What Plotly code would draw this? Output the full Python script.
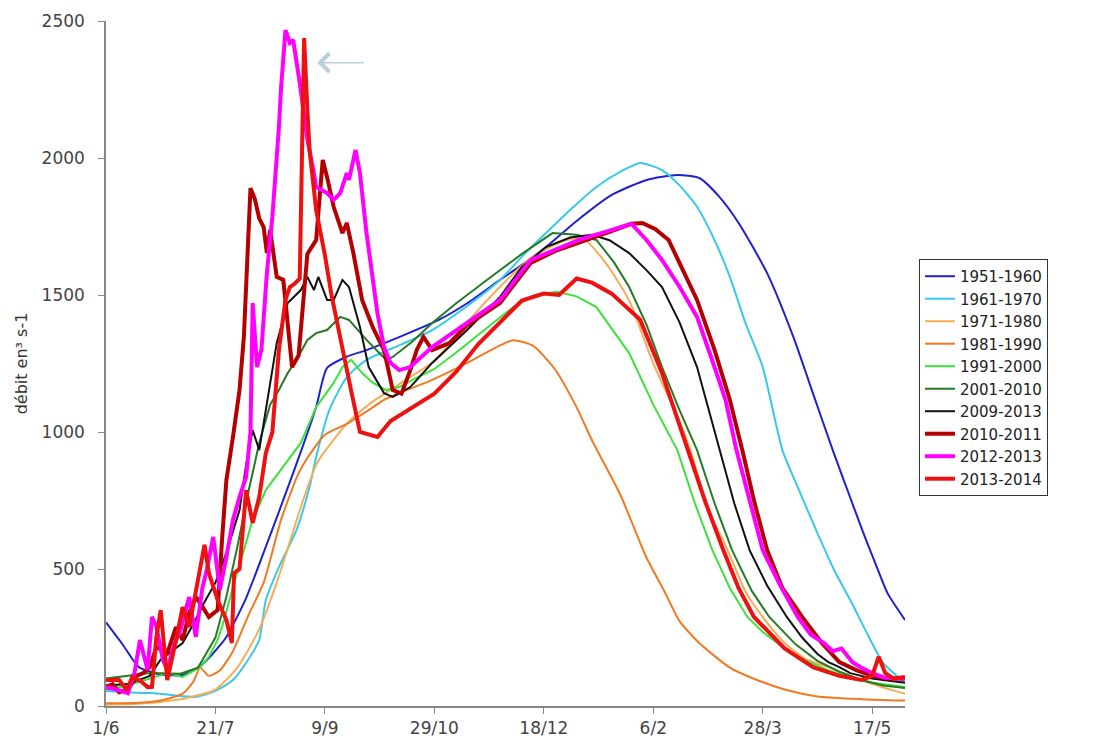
import plotly.graph_objects as go

# day index from 1 June (0) to 31 May (~365)
tick_days = [0, 50, 100, 150, 200, 250, 300, 350]
tick_labels = ["1/6", "21/7", "9/9", "29/10", "18/12", "6/2", "28/3", "17/5"]

days_5160 = [0, 8, 15, 25, 35, 42, 47, 55, 64, 72, 81, 90, 96, 101, 110, 119, 135, 152, 165, 180, 190, 201, 215,
             231, 247, 261, 271, 280, 289, 302, 314, 323, 332, 340, 346, 352, 357, 365]
q_5160 = [305, 220, 142, 115, 113, 140, 175, 252, 394, 560, 752, 950, 1091, 1234, 1275, 1299, 1350, 1409, 1470, 1555,
          1610, 1675, 1770, 1865, 1920, 1938, 1927, 1860, 1763, 1580, 1347, 1140, 934, 760, 631, 510, 412, 314]

days_6170 = [0, 10, 21, 30, 41, 50, 58, 65, 70, 73, 79, 87, 93, 96, 102, 110, 119, 135, 149, 165, 180, 190, 201,
             212, 224, 235, 244, 254, 262, 270, 278, 285, 292, 300, 309, 317, 325, 333, 340, 348, 355, 365]
q_6170 = [55, 50, 47, 40, 33, 55, 95, 170, 241, 387, 507, 642, 800, 909, 1080, 1200, 1263, 1320, 1372, 1460, 1555,
          1640, 1726, 1810, 1894, 1950, 1982, 1956, 1900, 1822, 1700, 1566, 1400, 1237, 934, 780, 631, 490, 387,
          260, 157, 84]

days_7180 = [0, 15, 30, 40, 50, 60, 70, 78, 84, 90, 96, 100, 110, 120, 135, 150, 165, 180, 195, 210, 218, 228,
             239, 250, 262, 267, 275, 284, 292, 300, 310, 320, 330, 340, 350, 365]
q_7180 = [5, 8, 20, 35, 60, 140, 280, 450, 600, 750, 880, 930, 1030, 1100, 1180, 1260, 1400, 1530, 1640, 1700,
          1705, 1620, 1480, 1250, 1040, 934, 720, 569, 420, 325, 230, 170, 142, 110, 80, 45]

days_8190 = [0, 15, 25, 35, 40, 43, 47, 52, 58, 65, 72, 80, 88, 95, 100, 110, 120, 127, 134, 149, 165, 176, 186,
             195, 205, 215, 222, 235, 247, 255, 262, 271, 285, 294, 310, 325, 345, 365]
q_8190 = [10, 12, 20, 45, 90, 140, 110, 130, 200, 330, 450, 680, 850, 940, 990, 1030, 1080, 1117, 1142, 1190,
          1252, 1300, 1335, 1315, 1230, 1090, 970, 770, 540, 420, 310, 230, 140, 106, 60, 35, 25, 20]

days_9100 = [0, 10, 20, 28, 35, 43, 47, 51, 54, 58, 63, 67, 73, 81, 89, 96, 104, 108, 112, 117, 122, 128, 134,
             140, 150, 160, 171, 186, 196, 206, 215, 224, 239, 250, 261, 269, 277, 285, 293, 300, 310, 320, 330,
             340, 350, 365]
q_9100 = [60, 75, 100, 120, 106, 142, 179, 241, 314, 434, 569, 679, 788, 872, 960, 1091, 1179, 1237, 1263, 1215,
          1179, 1153, 1164, 1190, 1230, 1290, 1360, 1456, 1500, 1512, 1495, 1456, 1288, 1100, 934, 740, 569, 430,
          325, 270, 210, 165, 130, 105, 85, 69]

days_0110 = [0, 10, 20, 34, 42, 50, 55, 60, 65, 70, 75, 79, 83, 87, 92, 96, 101, 107, 111, 119, 128, 131, 140,
             149, 160, 174, 190, 204, 215, 224, 232, 239, 247, 254, 262, 270, 278, 286, 295, 303, 315, 325, 335,
             345, 355, 365]
q_0110 = [100, 110, 120, 118, 140, 250, 400, 580, 780, 960, 1100, 1153, 1215, 1263, 1336, 1361, 1372, 1420, 1409,
          1336, 1263, 1274, 1330, 1398, 1470, 1555, 1650, 1726, 1720, 1701, 1620, 1529, 1390, 1237, 1080, 934, 740,
          569, 420, 325, 225, 165, 125, 95, 75, 66]

days_0913 = [0, 10, 20, 25, 30, 35, 40, 45, 50, 55, 61, 64, 67, 70, 73, 78, 83, 89, 92, 95, 97, 101, 104, 108,
             111, 116, 120, 127, 131, 139, 149, 165, 180, 190, 201, 212, 222, 230, 239, 247, 254, 262, 270, 280,
             287, 294, 302, 311, 318, 325, 330, 335, 340, 345, 350, 355, 360, 365]
q_0913 = [75, 80, 110, 170, 200, 230, 300, 380, 450, 560, 715, 880, 1007, 934, 1080, 1325, 1471, 1518, 1566, 1518,
          1566, 1482, 1482, 1555, 1529, 1383, 1237, 1142, 1128, 1164, 1252, 1372, 1493, 1602, 1675, 1710, 1720,
          1700, 1653, 1590, 1529, 1400, 1237, 945, 740, 569, 440, 325, 250, 190, 160, 142, 120, 110, 100, 95, 90, 85]

days_1011 = [0, 3, 6, 10, 14, 17, 20, 23, 28, 32, 35, 38, 41, 43, 47, 51, 53, 55, 58, 61, 63, 66, 68, 70, 72,
             73.5, 75, 78, 81, 83, 85, 88, 92, 96, 99, 101, 104, 108, 110, 113, 117, 122, 127, 131, 135, 139, 142,
             145, 149, 157, 165, 180, 194, 205, 216, 230, 240, 245, 251, 257, 263, 270, 278, 285, 291, 296, 302,
             309, 318, 327, 335, 343, 350, 357, 365]
q_1011 = [70, 80, 50, 60, 110, 120, 142, 215, 193, 288, 241, 340, 398, 376, 325, 350, 606, 825, 982, 1153, 1350,
          1890, 1850, 1780, 1748, 1653, 1737, 1566, 1555, 1400, 1237, 1280, 1650, 1700, 1993, 1930, 1822, 1726,
          1763, 1653, 1482, 1380, 1299, 1153, 1140, 1226, 1300, 1347, 1299, 1325, 1390, 1471, 1617, 1660, 1690,
          1730, 1760, 1763, 1740, 1701, 1600, 1482, 1300, 1117, 923, 750, 569, 430, 325, 230, 160, 130, 110, 100,
          100]

days_1213 = [0, 5, 10, 13, 15.5, 19, 21, 23, 26, 28, 31, 34, 38, 41, 44, 46, 49, 52, 55, 58, 61, 64, 66, 67, 69,
             71, 73.5, 76, 79, 80, 82, 84, 85.5, 88.5, 92, 93, 95, 96, 101, 104, 107, 110, 111, 114, 116, 119, 124,
             127, 130, 134, 139, 149, 165, 180, 194, 216, 230, 240, 247, 254, 262, 270, 277, 283, 288, 294, 300,
             308, 316, 322, 328, 332, 336, 341, 345, 350, 355, 360, 365]
q_1213 = [69, 60, 47, 120, 241, 131, 325, 290, 168, 131, 220, 277, 398, 252, 430, 496, 617, 423, 544, 679, 763,
          836, 1000, 1471, 1237, 1300, 1580, 1785, 2113, 2259, 2467, 2420, 2431, 2274, 2066, 2029, 1945, 1894, 1872,
          1847, 1872, 1945, 1920, 2029, 1945, 1726, 1434, 1310, 1252, 1226, 1237, 1310, 1398, 1482, 1628, 1701,
          1735, 1760, 1700, 1628, 1530, 1420, 1260, 1117, 934, 750, 569, 440, 325, 260, 230, 200, 210, 160, 140,
          120, 105, 100, 100]

days_1314 = [0, 6, 9.5, 12, 16, 19, 21, 23, 25, 28, 32, 35, 38, 41, 45, 47, 51, 55, 57.5, 58.5, 61, 64, 67, 70,
             73, 76, 79, 82, 84, 86, 88.5, 89.5, 90.5, 92, 93, 96, 100, 103, 108, 112, 116, 120, 124, 130, 140, 150,
             160, 170, 180, 190, 200, 207, 215, 222, 231, 244, 254, 266, 274, 282, 289, 296, 310, 323, 335, 345,
             350, 353, 356, 360, 365]
q_1314 = [95, 95, 58, 106, 90, 69, 70, 250, 350, 95, 241, 361, 288, 423, 588, 485, 387, 314, 230, 485, 500, 788,
          668, 763, 923, 1000, 1300, 1482, 1529, 1540, 1560, 2000, 2438, 2175, 2029, 1810, 1646, 1500, 1300, 1150,
          1000, 990, 982, 1040, 1090, 1140, 1220, 1320, 1400, 1480, 1505, 1500, 1560, 1545, 1505, 1410, 1215, 934,
          740, 569, 430, 325, 210, 142, 110, 95, 110, 180, 120, 100, 106]

series = [
    ("1951-1960", days_5160, q_5160, "#2020d0", 2, "spline"),
    ("1961-1970", days_6170, q_6170, "#38c8ea", 2, "spline"),
    ("1971-1980", days_7180, q_7180, "#f5ad5a", 2, "spline"),
    ("1981-1990", days_8190, q_8190, "#f07a22", 2, "spline"),
    ("1991-2000", days_9100, q_9100, "#3ee03e", 2, "linear"),
    ("2001-2010", days_0110, q_0110, "#257a25", 2, "linear"),
    ("2009-2013", days_0913, q_0913, "#111111", 2, "linear"),
    ("2010-2011", days_1011, q_1011, "#b40000", 4, "linear"),
    ("2012-2013", days_1213, q_1213, "#ff00ff", 4, "linear"),
    ("2013-2014", days_1314, q_1314, "#ee1111", 4, "linear"),
]

fig = go.Figure()
for name, d, q, col, w, shape in series:
    assert len(d) == len(q), name
    fig.add_trace(go.Scatter(x=d, y=q, mode="lines", name=name,
                             line=dict(color=col, width=w, shape=shape, smoothing=0.6)))

# arrow pointing at the 2013-2014 peak
peak_i = q_1314.index(max(q_1314))
fig.add_annotation(x=days_1314[peak_i] + 6, y=max(q_1314) - 90, ax=48, ay=0,
                   showarrow=True, arrowhead=4, arrowsize=2.4, arrowwidth=1.5,
                   arrowcolor="#b9cfd9", text="")

# page body adds ~8px offset, so the figure is a bit smaller than the window
fig.update_layout(
    width=1086, height=732,
    margin=dict(l=98, r=189, t=13, b=34),
    plot_bgcolor="white", paper_bgcolor="white",
    font=dict(family="DejaVu Sans, Arial, sans-serif", color="#333", size=17),
    showlegend=True,
    legend=dict(x=1.0175, y=0.6526, xanchor="left", yanchor="top",
                bordercolor="#333", borderwidth=1, bgcolor="white",
                font=dict(size=15, color="#222"), tracegroupgap=0),
)
fig.update_xaxes(range=[0, 365], tickvals=tick_days, ticktext=tick_labels, automargin=False,
                 showgrid=False, zeroline=False, showline=True, linecolor="#888", linewidth=1.5,
                 ticks="outside", ticklen=6, tickcolor="#888", tickfont=dict(size=17, color="#444"))
fig.update_yaxes(range=[0, 2500], tickvals=[0, 500, 1000, 1500, 2000, 2500], automargin=False,
                 showgrid=False, zeroline=False, showline=True, linecolor="#888", linewidth=1.5,
                 ticks="outside", ticklen=6, tickcolor="#888", ticklabelstandoff=10,
                 tickfont=dict(size=17, color="#444"),
                 title=dict(text="débit en³ s-1", font=dict(size=16, color="#333"), standoff=10))

fig.write_html("out.html")
